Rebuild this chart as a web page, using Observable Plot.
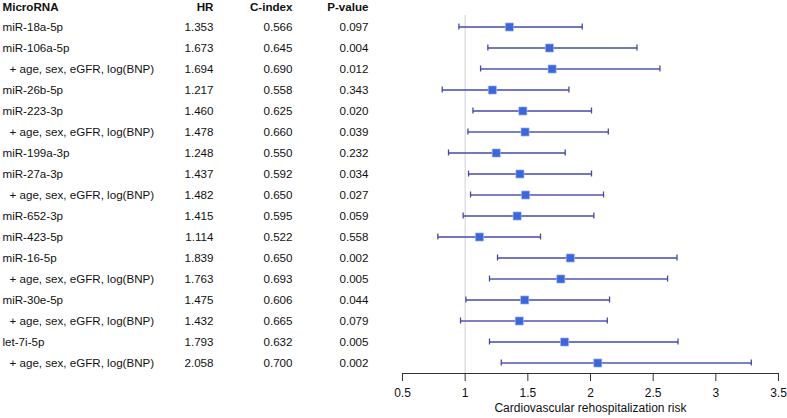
<!DOCTYPE html>
<html>
<head>
<meta charset="utf-8">
<script src="https://cdn.jsdelivr.net/npm/d3@7"></script>
<script src="https://cdn.jsdelivr.net/npm/@observablehq/plot@0.6"></script>
<style>
  html, body { margin: 0; padding: 0; background: #fff; }
  svg { display: block; }
</style>
</head>
<body>
<div id="chart"></div>
<script>
// ---- data ----
const labels = [
  "miR-18a-5p", "miR-106a-5p", "+ age, sex, eGFR, log(BNP)", "miR-26b-5p",
  "miR-223-3p", "+ age, sex, eGFR, log(BNP)", "miR-199a-3p", "miR-27a-3p",
  "+ age, sex, eGFR, log(BNP)", "miR-652-3p", "miR-423-5p", "miR-16-5p",
  "+ age, sex, eGFR, log(BNP)", "miR-30e-5p", "+ age, sex, eGFR, log(BNP)",
  "let-7i-5p", "+ age, sex, eGFR, log(BNP)"
];
const hr     = [1.353, 1.673, 1.694, 1.217, 1.460, 1.478, 1.248, 1.437, 1.482, 1.415, 1.114, 1.839, 1.763, 1.475, 1.432, 1.793, 2.058];
const cindex = [0.566, 0.645, 0.690, 0.558, 0.625, 0.660, 0.550, 0.592, 0.650, 0.595, 0.522, 0.650, 0.693, 0.606, 0.665, 0.632, 0.700];
const pvalue = [0.097, 0.004, 0.012, 0.343, 0.020, 0.039, 0.232, 0.034, 0.027, 0.059, 0.558, 0.002, 0.005, 0.044, 0.079, 0.005, 0.002];
const ciLow  = [0.950, 1.181, 1.123, 0.817, 1.062, 1.022, 0.867, 1.027, 1.043, 0.984, 0.782, 1.258, 1.194, 1.006, 0.963, 1.194, 1.288];
const ciHigh = [1.934, 2.371, 2.554, 1.828, 2.008, 2.142, 1.798, 2.008, 2.104, 2.027, 1.601, 2.690, 2.615, 2.152, 2.134, 2.698, 3.283];
const headers = ["MicroRNA", "HR", "C-index", "P-value"];
const xTicks = [0.5, 1, 1.5, 2, 2.5, 3, 3.5];
const xLabel = "Cardiovascular rehospitalization risk";

// ---- table built from arrays ----
const rows = labels.map((label, i) => ({
  id: i, label, hr: hr[i], cindex: cindex[i], p: pvalue[i],
  lo: ciLow[i], hi: ciHigh[i], adjusted: label.startsWith("+")
}));
const mainRows = rows.filter(d => !d.adjusted);
const adjRows = rows.filter(d => d.adjusted);

// column layout (offsets from the plot frame's left edge)
const frameLeft = 402;
const colDx = [2, 213, 292, 368].map(v => v - frameLeft);
const indent = 7;
const font = "'Liberation Sans', Arial, sans-serif";
const fs = 11.6;
const fmt3 = d3.format(".3f");

const plot = Plot.plot({
  width: 787,
  height: 418,
  marginLeft: frameLeft,
  marginRight: 9,
  marginTop: 15,
  marginBottom: 45,
  style: { fontFamily: font, fontSize: "11px", color: "#111" },
  x: { domain: [0.5, 3.5], ticks: xTicks, tickFormat: d => String(d), label: null },
  y: { type: "band", domain: rows.map(d => d.id), padding: 0, axis: null },
  marks: [
    Plot.ruleX([1], { stroke: "#cfd0d8", strokeWidth: 1 }),
    Plot.frame({ anchor: "bottom", stroke: "#333" }),
    Plot.axisX({ ticks: xTicks, tickFormat: d => String(d), tickSize: 8, tickPadding: 7,
                 fontSize: 12, stroke: "#333", fill: "#111", label: null }),
    Plot.text([xLabel], { frameAnchor: "bottom", dy: 38, fontSize: 12, fill: "#111" }),
    // CI lines
    Plot.link(rows, { x1: "lo", x2: "hi", y1: "id", y2: "id",
      stroke: d => d.adjusted ? "#7c80c6" : "#454aa8",
      strokeWidth: d => d.adjusted ? 2 : 1.4 }),
    Plot.tickX(rows, { x: "lo", y: "id", stroke: "#454aa8", strokeWidth: 1.3, inset: 7.5 }),
    Plot.tickX(rows, { x: "hi", y: "id", stroke: "#454aa8", strokeWidth: 1.3, inset: 7.5 }),
    Plot.dot(rows, { x: "hr", y: "id", symbol: "square", r: 4.6, fill: "#3a66e0", stroke: "#aebff0", strokeWidth: 0.6 }),
    // table columns
    Plot.text(mainRows, { y: "id", text: "label", frameAnchor: "left", dx: colDx[0], textAnchor: "start", fontSize: fs, fill: "#111" }),
    Plot.text(adjRows, { y: "id", text: "label", frameAnchor: "left", dx: colDx[0] + indent, textAnchor: "start", fontSize: fs, fill: "#111" }),
    Plot.text(rows, { y: "id", text: d => fmt3(d.hr), frameAnchor: "left", dx: colDx[1], textAnchor: "end", fontSize: fs, fill: "#111" }),
    Plot.text(rows, { y: "id", text: d => fmt3(d.cindex), frameAnchor: "left", dx: colDx[2], textAnchor: "end", fontSize: fs, fill: "#111" }),
    Plot.text(rows, { y: "id", text: d => fmt3(d.p), frameAnchor: "left", dx: colDx[3], textAnchor: "end", fontSize: fs, fill: "#111" }),
    // headers
    ...headers.map((h, i) => Plot.text([h], { frameAnchor: "top-left", lineAnchor: "middle", dy: -8,
      dx: colDx[i], textAnchor: i === 0 ? "start" : "end", fontWeight: "bold", fontSize: fs, fill: "#111" }))
  ]
});

document.getElementById("chart").appendChild(plot);
</script>
</body>
</html>
